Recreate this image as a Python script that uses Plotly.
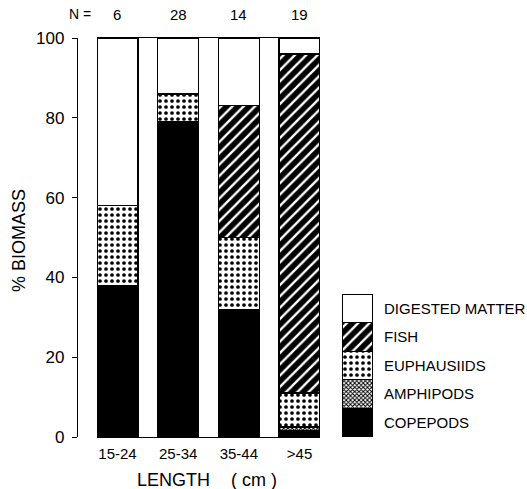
import plotly.graph_objects as go

# ---- data ----
length_classes = ["15-24", "25-34", "35-44", ">45"]
n_fish = ["6", "28", "14", "19"]
copepods = [38, 79, 32, 1.5]
amphipods = [0, 0, 0, 1]
euphausiids = [20, 7, 18, 8.5]
fish = [0, 0, 33, 85]
digested = [42, 14, 17, 4]

series_names = ["COPEPODS", "AMPHIPODS", "EUPHAUSIIDS", "FISH", "DIGESTED MATTER"]
series_values = [copepods, amphipods, euphausiids, fish, digested]

FONT = "Liberation Sans"
styles = [
    dict(color="black"),
    dict(color="white", pattern=dict(shape="x", bgcolor="white", fgcolor="black", size=3, solidity=0.55, fillmode="replace")),
    dict(color="white", pattern=dict(shape=".", bgcolor="white", fgcolor="black", size=6, solidity=0.3, fillmode="replace")),
    dict(color="black", pattern=dict(shape="/", bgcolor="black", fgcolor="white", size=8, solidity=0.3, fillmode="replace")),
    dict(color="white"),
]

W, H = 527, 489
ML, MR, MT, MB = 77, 2, 38, 52
PW = W - ML - MR
PH = H - MT - MB

def px_x(a, b):
    return [(a - ML) / PW, (b - ML) / PW]

def px_y(top, bottom):
    return [max(0.0, (H - MB - bottom) / PH), min(1.0, (H - MB - top) / PH)]

def paper_x(px):
    return (px - ML) / PW

def paper_y(py):
    return (H - MB - py) / PH

fig = go.Figure()
xpos = list(range(len(length_classes)))
bw = 0.675
for name, vals, st in zip(series_names, series_values, styles):
    m = dict(st)
    m["line"] = dict(color="black", width=1.3)
    fig.add_trace(go.Bar(x=xpos, y=vals, width=bw, marker=m, name=name,
                         showlegend=False, xaxis="x", yaxis="y"))

# legend column drawn as a stacked bar
for name, st in zip(series_names, styles):
    m = dict(st)
    m["line"] = dict(color="black", width=1.3)
    fig.add_trace(go.Bar(x=[0], y=[1], width=1, marker=m, name=name,
                         showlegend=False, xaxis="x3", yaxis="y3", hoverinfo="skip"))

fig.update_layout(
    width=W, height=H,
    margin=dict(l=ML, r=MR, t=MT, b=MB, autoexpand=False),
    paper_bgcolor="white", plot_bgcolor="white",
    barmode="stack",
    font=dict(family=FONT, color="black", size=14),
    xaxis=dict(domain=px_x(97, 320), range=[-bw / 2, len(length_classes) - 1 + bw / 2],
               tickvals=xpos, ticktext=length_classes, ticks="", showgrid=False,
               showline=True, mirror=True, linecolor="black", linewidth=1.3,
               zeroline=False, tickfont=dict(size=15), ticklabelstandoff=3, automargin=False),
    yaxis=dict(range=[0, 100], tickvals=[0, 20, 40, 60, 80, 100], anchor="free", position=0,
               showline=True, linecolor="black", linewidth=1.3, ticks="outside",
               ticklen=5, tickwidth=1.3, tickcolor="black", showgrid=False, zeroline=False,
               tickfont=dict(size=17), ticklabelstandoff=4, automargin=False),
    yaxis2=dict(range=[0, 100], tickvals=[0, 20, 40, 60, 80, 100], overlaying="y",
                anchor="free", position=0, side="right", ticks="outside", ticklen=5, tickwidth=1.3,
                tickcolor="black", showticklabels=False, showline=False, showgrid=False,
                zeroline=False, automargin=False),
    xaxis3=dict(domain=px_x(342, 373), range=[-0.5, 0.5], visible=False, anchor="y3"),
    yaxis3=dict(domain=px_y(294, 438), range=[0, 5], anchor="x3", side="right",
                tickvals=[i + 0.5 for i in range(len(series_names))], ticktext=series_names,
                ticks="", showline=False, showgrid=False, zeroline=False,
                tickfont=dict(size=15), ticklabelstandoff=10, automargin=False),
)

C = dict(xanchor="center", yanchor="middle", showarrow=False)
annotations = [
    dict(text="% BIOMASS", x=paper_x(19), y=paper_y(240), xref="paper", yref="paper",
         textangle=-90, font=dict(size=18), **C),
    dict(text="LENGTH", x=paper_x(173.5), y=paper_y(480), xref="paper", yref="paper",
         font=dict(size=18), **C),
    dict(text="( cm )", x=paper_x(253.5), y=paper_y(480), xref="paper", yref="paper",
         font=dict(size=18), **C),
    dict(text="N =", x=paper_x(80), y=paper_y(14), xref="paper", yref="paper",
         font=dict(size=14), **C),
]
for xi, n in zip(xpos, n_fish):
    annotations.append(dict(text=n, x=xi, xref="x", y=paper_y(14), yref="paper",
                            font=dict(size=15), **C))
fig.update_layout(annotations=annotations)

fig.write_html("out.html", config={"displayModeBar": False},
               post_script="document.body.style.margin='0';document.body.style.overflow='hidden';")
